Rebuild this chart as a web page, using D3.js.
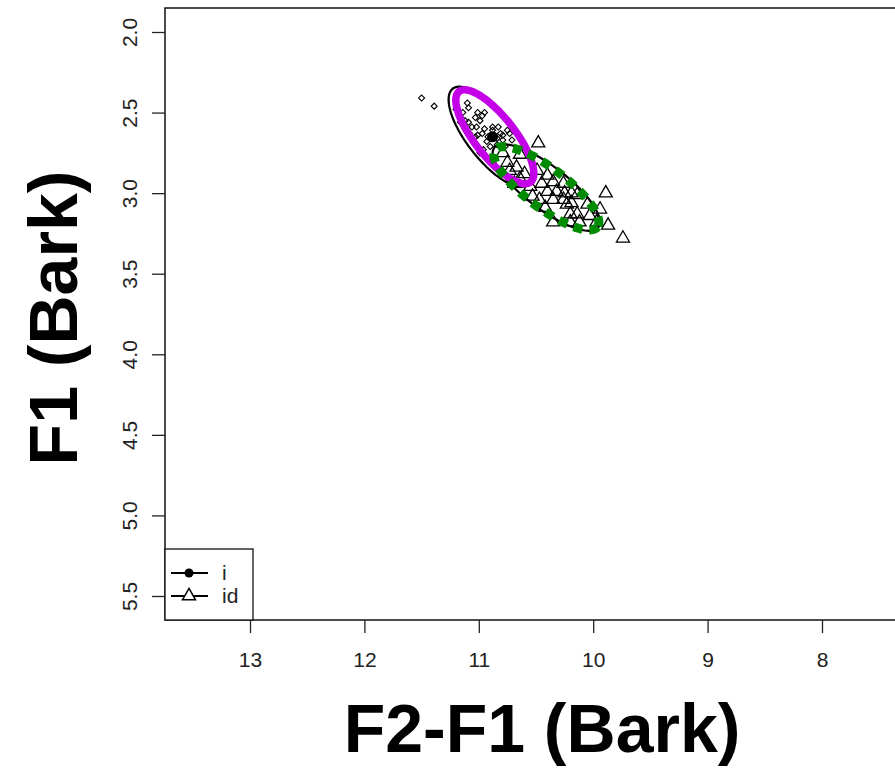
<!DOCTYPE html>
<html>
<head>
<meta charset="utf-8">
<script src="https://cdn.jsdelivr.net/npm/d3@7"></script>
<style>
  html, body { margin: 0; padding: 0; background: #fff; }
  svg { display: block; }
</style>
</head>
<body>
<script>
// Vowel space: F2-F1 vs F1 (Bark), two categories "i" and "id"
const xTicks = [13, 12, 11, 10, 9, 8];
const yTicks = [2.0, 2.5, 3.0, 3.5, 4.0, 4.5, 5.0, 5.5];

const categories = ["i", "id"];

// "i" tokens: [F2-F1, F1]
const iX = [11.50, 11.39, 11.10, 11.01, 10.97, 10.95, 10.99, 11.03, 11.14, 11.12, 11.09, 11.06, 11.02, 11.12,
  11.08, 11.03, 10.97, 10.95, 10.88, 10.81, 10.75, 10.73, 10.84, 10.79, 10.93, 10.92, 10.88, 11.16, 10.99,
  10.96, 11.01, 10.83, 10.79, 10.84, 10.77, 10.71, 10.90, 11.03, 11.09, 11.20, 11.16];
const iY = [2.41, 2.46, 2.44, 2.50, 2.52, 2.50, 2.55, 2.53, 2.50, 2.55, 2.56, 2.59, 2.59, 2.60,
  2.63, 2.65, 2.63, 2.60, 2.61, 2.63, 2.61, 2.63, 2.66, 2.67, 2.68, 2.65, 2.59, 2.56, 2.75,
  2.73, 2.64, 2.59, 2.64, 2.70, 2.71, 2.67, 2.71, 2.70, 2.47, 2.48, 2.53];

// "id" tokens: [F2-F1, F1]
const idX = [10.48, 10.79, 10.64, 10.75, 10.67, 10.60, 10.49, 10.40, 10.45, 10.35, 10.26, 10.40, 10.32,
  10.64, 10.55, 10.35, 10.26, 10.42, 10.73, 9.89, 9.94, 9.87, 9.74, 9.97, 10.14, 10.20, 10.19, 10.25,
  10.19, 10.35, 10.20, 10.23, 10.05, 10.12, 10.03, 10.69, 10.53, 10.14, 10.47];
const idY = [2.69, 2.75, 2.76, 2.81, 2.84, 2.88, 2.86, 2.89, 2.94, 2.93, 2.94, 2.99, 2.99,
  2.91, 2.96, 3.04, 3.04, 3.09, 2.86, 3.00, 3.10, 3.20, 3.28, 3.18, 3.13, 3.13, 3.06, 3.00,
  3.00, 3.18, 3.18, 3.07, 3.07, 3.18, 3.14, 2.94, 3.02, 3.01, 3.04];

// category mean of "i"
const iMean = [10.88, 2.65];

// ellipses: centre, semi-major vector, semi-minor vector (data units)
const ellipseCentre = [[10.90, 2.65], [10.86, 2.65], [10.41, 2.965], [10.41, 2.97]];
const ellipseMajor = [[-0.328, 0.298], [-0.312, 0.281], [-0.455, 0.247], [-0.447, 0.239]];
const ellipseMinor = [[0.158, 0.088], [0.137, 0.077], [0.112, 0.106], [0.105, 0.099]];
const ellipseKind = ["thin", "magenta", "thin", "green"];

const W = 895, H = 768;
const plot = { left: 165, top: 8, bottom: 620, right: 1000 };

const svg = d3.select("body").append("svg")
  .attr("width", W).attr("height", H)
  .style("font-family", "'Liberation Sans', Arial, sans-serif");

svg.append("rect").attr("width", W).attr("height", H).attr("fill", "#fff");

const x = d3.scaleLinear().domain([13, 8]).range([250, 822]);
const y = d3.scaleLinear().domain([2.0, 5.5]).range([32, 596]);

// points
const g = svg.append("g");

const triSym = d3.symbol().type(d3.symbolTriangle).size(74);
const diaSym = d3.symbol().type(d3.symbolSquare).size(18);

g.selectAll("path.tri").data(idX.map((v, i) => [v, idY[i]])).enter()
  .append("path").attr("class", "tri")
  .attr("d", triSym)
  .attr("transform", d => `translate(${x(d[0])},${y(d[1])})`)
  .attr("fill", "none").attr("stroke", "#000").attr("stroke-width", 1.3);

g.selectAll("path.dia").data(iX.map((v, i) => [v, iY[i]])).enter()
  .append("path").attr("class", "dia")
  .attr("d", diaSym)
  .attr("transform", d => `translate(${x(d[0])},${y(d[1])}) rotate(45)`)
  .attr("fill", "none").attr("stroke", "#000").attr("stroke-width", 1.1);

g.append("circle").attr("cx", x(iMean[0])).attr("cy", y(iMean[1])).attr("r", 5.5).attr("fill", "#000");

// ellipses
const line = d3.line().x(d => x(d[0])).y(d => y(d[1])).curve(d3.curveLinearClosed);
const nSteps = 120;
const order = [0, 2, 1, 3];
order.forEach(k => {
  const c = ellipseCentre[k], a = ellipseMajor[k], b = ellipseMinor[k];
  const pts = d3.range(nSteps).map(i => {
    const t = (i / nSteps) * 2 * Math.PI;
    return [c[0] + Math.cos(t) * a[0] + Math.sin(t) * b[0],
            c[1] + Math.cos(t) * a[1] + Math.sin(t) * b[1]];
  });
  const p = g.append("path").attr("d", line(pts)).attr("fill", "none");
  if (ellipseKind[k] === "thin") {
    p.attr("stroke", "#000").attr("stroke-width", 2.2);
  } else if (ellipseKind[k] === "magenta") {
    p.attr("stroke", "#c400e8").attr("stroke-width", 7.5);
  } else {
    p.attr("stroke", "#008b00").attr("stroke-width", 9).attr("stroke-dasharray", "9 7");
  }
});

// frame
svg.append("rect")
  .attr("x", plot.left).attr("y", plot.top)
  .attr("width", plot.right - plot.left).attr("height", plot.bottom - plot.top)
  .attr("fill", "none").attr("stroke", "#111").attr("stroke-width", 1.5);

// x axis
const xAxis = svg.append("g").attr("transform", `translate(0,${plot.bottom})`)
  .call(d3.axisBottom(x).tickValues(xTicks).tickSize(13).tickFormat(d3.format("d")));
xAxis.select(".domain").remove();
xAxis.selectAll(".tick line").attr("stroke", "#222").attr("stroke-width", 1.3);
xAxis.selectAll(".tick text")
  .attr("y", 40).attr("dy", "0.35em")
  .attr("font-size", 21).attr("fill", "#222")
  .style("font-family", "'Liberation Sans', Arial, sans-serif");

// y axis
const yAxis = svg.append("g").attr("transform", `translate(${plot.left},0)`)
  .call(d3.axisLeft(y).tickValues(yTicks).tickSize(13).tickFormat(d3.format(".1f")));
yAxis.select(".domain").remove();
yAxis.selectAll(".tick line").attr("stroke", "#222").attr("stroke-width", 1.3);
yAxis.selectAll(".tick text")
  .attr("x", null).attr("dy", null)
  .attr("transform", "translate(-36,0) rotate(-90)")
  .attr("text-anchor", "middle").attr("dominant-baseline", "central")
  .attr("font-size", 21).attr("fill", "#222")
  .style("font-family", "'Liberation Sans', Arial, sans-serif");

// axis titles
svg.append("text")
  .attr("x", 542).attr("y", 752)
  .attr("text-anchor", "middle")
  .attr("font-size", 68).attr("font-weight", "bold").attr("fill", "#000")
  .text("F2-F1 (Bark)");

svg.append("text")
  .attr("transform", "translate(77,318) rotate(-90)")
  .attr("text-anchor", "middle")
  .attr("font-size", 68).attr("font-weight", "bold").attr("fill", "#000")
  .text("F1 (Bark)");

// legend
const leg = svg.append("g");
leg.append("rect").attr("x", 165).attr("y", 549).attr("width", 88).attr("height", 71)
  .attr("fill", "#fff").attr("stroke", "#111").attr("stroke-width", 1.3);
const legY = [573, 596];
categories.forEach((c, i) => {
  leg.append("line").attr("x1", 171).attr("x2", 208).attr("y1", legY[i]).attr("y2", legY[i])
    .attr("stroke", "#000").attr("stroke-width", 2);
  if (i === 0) {
    leg.append("circle").attr("cx", 189).attr("cy", legY[i]).attr("r", 4.5).attr("fill", "#000");
  } else {
    leg.append("path").attr("d", triSym).attr("transform", `translate(189,${legY[i]})`)
      .attr("fill", "#fff").attr("stroke", "#000").attr("stroke-width", 1.5);
  }
  leg.append("text").attr("x", 222).attr("y", legY[i]).attr("dy", "0.35em")
    .attr("font-size", 21).attr("fill", "#222").text(c);
});
</script>
</body>
</html>
